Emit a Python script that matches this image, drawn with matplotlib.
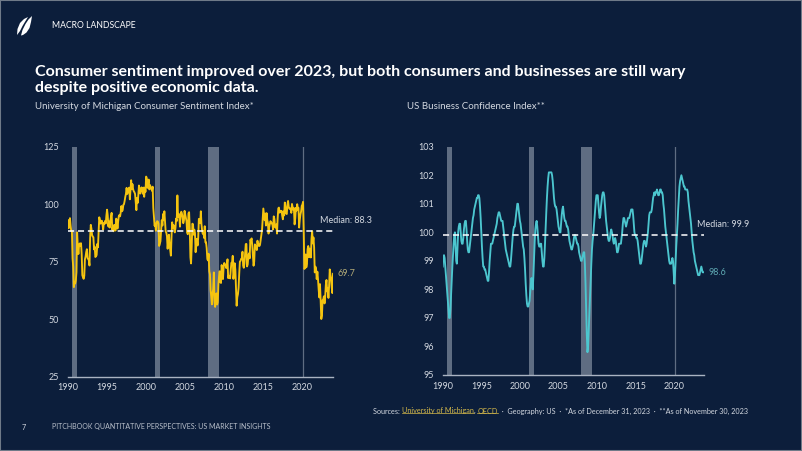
import numpy as np
import matplotlib
matplotlib.use("Agg")
import matplotlib.pyplot as plt
from matplotlib.patches import Polygon, Rectangle
from matplotlib.lines import Line2D

plt.rcParams['font.family'] = ['Lato', 'DejaVu Sans']

# ---------------- data ----------------
start_year = 1990  # monthly series starting January 1990

sentiment = [
    93.0, 89.5, 91.3, 93.9, 90.6, 88.3, 88.2, 76.4, 72.8, 63.9, 66.0, 65.5,
    66.8, 70.4, 87.7, 81.8, 78.3, 82.1, 82.9, 82.0, 83.0, 78.3, 69.1, 68.2,
    67.5, 68.8, 76.0, 77.2, 79.2, 80.4, 76.6, 76.1, 75.6, 73.3, 85.3, 91.0,
    89.3, 86.6, 85.9, 85.6, 80.3, 81.5, 77.0, 77.3, 77.9, 82.7, 81.2, 88.2,
    94.3, 93.2, 91.5, 92.6, 92.8, 91.2, 89.0, 91.7, 91.5, 92.7, 91.6, 95.1,
    97.6, 95.1, 90.3, 92.5, 89.8, 92.7, 94.4, 96.2, 88.9, 90.2, 88.2, 91.0,
    89.3, 88.5, 93.7, 92.7, 89.4, 92.4, 94.7, 95.3, 94.7, 96.5, 99.2, 96.9,
    97.4, 99.7, 100.0, 101.4, 103.2, 104.5, 107.1, 104.4, 106.0, 105.6, 107.2, 102.1,
    106.6, 110.4, 106.5, 108.7, 106.5, 105.6, 105.2, 104.4, 100.9, 97.4, 102.7, 100.5,
    103.9, 108.1, 105.7, 104.6, 106.8, 107.3, 106.0, 104.5, 107.2, 103.2, 107.2, 105.4,
    112.0, 111.3, 107.1, 109.2, 110.7, 106.4, 108.3, 107.3, 106.8, 105.8, 107.6, 98.4,
    94.7, 90.6, 91.5, 88.4, 92.0, 92.6, 92.4, 91.5, 81.8, 82.7, 83.9, 88.8,
    93.0, 90.7, 95.7, 93.0, 96.9, 92.4, 88.1, 87.6, 86.1, 80.6, 84.2, 86.7,
    82.4, 79.9, 77.6, 86.0, 92.1, 89.7, 90.9, 89.3, 87.7, 89.6, 93.7, 92.6,
    103.8, 94.4, 95.8, 94.2, 90.2, 95.6, 96.7, 95.9, 94.2, 91.7, 92.8, 97.1,
    95.5, 94.1, 92.6, 87.7, 86.9, 96.0, 96.5, 89.1, 76.9, 74.2, 81.6, 91.5,
    91.2, 86.7, 88.9, 87.4, 79.1, 84.9, 84.7, 82.0, 85.4, 93.6, 92.1, 91.7,
    96.9, 91.3, 88.4, 87.1, 88.3, 85.3, 90.4, 83.4, 83.4, 80.9, 76.1, 75.5,
    78.4, 70.8, 69.5, 62.6, 59.8, 56.4, 61.2, 63.0, 70.3, 57.6, 55.3, 60.1,
    61.2, 56.3, 57.3, 65.1, 68.7, 70.8, 66.0, 65.7, 73.5, 70.6, 67.4, 72.5,
    74.4, 73.6, 73.6, 72.2, 73.6, 76.0, 67.8, 68.9, 68.2, 67.7, 71.6, 74.5,
    74.2, 77.5, 67.5, 69.8, 74.3, 71.5, 63.7, 55.8, 59.5, 60.8, 63.7, 69.9,
    75.0, 75.3, 76.2, 76.4, 79.3, 73.2, 72.3, 74.3, 78.3, 82.6, 82.7, 72.9,
    73.8, 77.6, 78.6, 76.4, 84.5, 84.1, 85.1, 82.1, 77.5, 73.2, 75.1, 82.5,
    81.2, 81.6, 80.0, 84.1, 81.9, 82.5, 81.8, 82.5, 84.6, 86.9, 88.8, 93.6,
    98.1, 95.4, 93.0, 95.9, 90.7, 96.1, 93.1, 91.9, 87.2, 90.0, 91.3, 92.6,
    92.0, 91.7, 91.0, 89.0, 94.7, 93.5, 90.0, 89.8, 91.2, 87.2, 93.8, 98.2,
    98.5, 96.3, 96.9, 97.0, 97.1, 95.0, 93.4, 96.8, 95.1, 100.7, 98.5, 95.9,
    95.7, 99.7, 101.4, 98.8, 98.0, 98.2, 97.9, 96.2, 100.1, 98.6, 97.5, 98.3,
    91.2, 93.8, 98.4, 97.2, 100.0, 98.2, 98.4, 89.8, 93.2, 95.5, 96.8, 99.3,
    99.8, 101.0, 89.1, 71.8, 72.3, 78.1, 72.5, 74.1, 80.4, 81.8, 76.9, 80.7,
    79.0, 76.8, 84.9, 88.3, 82.9, 85.5, 81.2, 70.3, 72.8, 71.7, 67.4, 70.6,
    67.2, 62.8, 59.4, 65.2, 58.4, 50.0, 51.5, 58.2, 58.6, 59.9, 56.8, 59.7,
    64.9, 67.0, 62.0, 63.5, 59.2, 64.4, 71.6, 69.5, 67.9, 63.8, 61.3, 69.7,
]

bci = [
    98.8, 99.1, 99.2, 99.1, 98.8, 98.5, 98.2, 97.9, 97.6, 97.3, 97.0, 97.0,
    97.3, 97.8, 98.3, 98.8, 99.2, 99.6, 99.9, 100.0, 99.5, 99.0, 98.9, 99.5,
    100.0, 100.2, 100.3, 100.3, 100.0, 99.7, 99.6, 99.6, 99.8, 100.1, 100.3, 100.4,
    100.4, 100.1, 99.7, 99.4, 99.3, 99.3, 99.5, 99.7, 99.9, 100.1, 100.3, 100.5,
    100.6, 100.8, 100.9, 101.0, 101.1, 101.2, 101.2, 101.3, 101.3, 101.2, 100.9, 100.5,
    100.0, 99.5, 99.1, 98.8, 98.8, 98.7, 98.7, 98.6, 98.5, 98.4, 98.3, 98.3,
    98.6, 99.0, 99.3, 99.6, 99.6, 99.6, 99.7, 99.8, 99.9, 100.0, 100.1, 100.2,
    100.3, 100.5, 100.6, 100.7, 100.7, 100.6, 100.5, 100.4, 100.4, 100.4, 100.2, 100.0,
    99.8, 99.6, 99.4, 99.3, 99.2, 99.1, 99.0, 98.9, 98.8, 98.8, 99.0, 99.3,
    99.6, 99.9, 100.1, 100.2, 100.2, 100.4, 100.6, 100.8, 101.0, 101.0, 100.8, 100.6,
    100.4, 100.3, 100.1, 99.9, 99.7, 99.5, 99.4, 99.1, 98.7, 98.2, 97.8, 97.5,
    97.4, 97.4, 97.5, 97.6, 97.9, 98.2, 98.4, 98.2, 98.0, 98.5, 99.1, 99.7,
    100.1, 100.3, 100.4, 100.2, 99.9, 99.6, 99.5, 99.5, 99.6, 99.6, 99.3, 99.0,
    98.8, 98.8, 99.1, 99.6, 100.2, 100.7, 101.2, 101.6, 101.9, 102.1, 102.1, 102.1,
    102.1, 102.1, 102.0, 101.8, 101.5, 101.2, 101.0, 100.9, 100.9, 100.8, 100.6, 100.4,
    100.2, 100.1, 100.0, 100.0, 100.3, 100.6, 100.8, 100.9, 100.7, 100.5, 100.4, 100.4,
    100.3, 100.2, 100.2, 100.1, 99.9, 99.7, 99.6, 99.5, 99.4, 99.4, 99.5, 99.6,
    99.8, 99.9, 99.9, 99.8, 99.7, 99.6, 99.6, 99.5, 99.3, 99.2, 99.1, 99.0,
    99.0, 99.1, 99.2, 99.3, 99.3, 98.9, 98.2, 97.3, 96.4, 95.8, 96.0, 96.6,
    97.2, 97.8, 98.4, 98.9, 99.4, 99.7, 99.9, 100.2, 100.5, 100.8, 101.1, 101.3,
    101.3, 101.3, 101.0, 100.7, 100.5, 100.6, 100.9, 101.1, 101.3, 101.4, 101.4, 101.3,
    101.0, 100.7, 100.4, 100.2, 100.0, 99.8, 99.7, 99.7, 99.8, 100.0, 100.1, 100.0,
    99.9, 99.7, 99.6, 99.7, 99.8, 99.7, 99.5, 99.3, 99.3, 99.4, 99.6, 99.6,
    99.6, 99.6, 99.8, 100.0, 100.3, 100.5, 100.5, 100.4, 100.3, 100.2, 100.3, 100.4,
    100.5, 100.5, 100.5, 100.6, 100.7, 100.8, 100.8, 100.8, 100.6, 100.3, 100.0, 99.9,
    99.9, 99.8, 99.8, 99.7, 99.5, 99.3, 99.1, 98.9, 98.9, 99.0, 99.2, 99.4,
    99.6, 99.7, 99.7, 99.6, 99.5, 99.6, 99.8, 100.0, 100.3, 100.6, 100.7, 100.7,
    100.7, 100.8, 101.0, 101.2, 101.3, 101.4, 101.3, 101.4, 101.4, 101.5, 101.4, 101.3,
    101.3, 101.4, 101.5, 101.5, 101.4, 101.4, 101.3, 101.0, 100.8, 100.5, 100.2, 100.0,
    99.8, 99.6, 99.4, 99.2, 99.0, 98.9, 98.9, 98.9, 99.0, 99.1, 99.0, 98.6,
    98.2, 98.5, 99.0, 99.5, 99.9, 100.3, 100.8, 101.2, 101.6, 101.8, 101.9, 102.0,
    101.9, 101.8, 101.7, 101.6, 101.6, 101.5, 101.5, 101.5, 101.5, 101.4, 101.1, 100.9,
    100.7, 100.5, 100.3, 100.0, 99.7, 99.5, 99.3, 99.2, 99.0, 98.9, 98.8, 98.7,
    98.6, 98.5, 98.5, 98.5, 98.6, 98.7, 98.8, 98.7, 98.6, 98.6, 98.6,
]

sentiment_median = 88.3
bci_median = 99.9
recessions = [(1990.55, 1991.17), (2001.15, 2001.77), (2007.92, 2009.33)]
covid_marker = 2020.1
year_ticks = [1990, 1995, 2000, 2005, 2010, 2015, 2020]
sentiment_yticks = [25, 50, 75, 100, 125]
bci_yticks = [95, 96, 97, 98, 99, 100, 101, 102, 103]

title_lines = ["Consumer sentiment improved over 2023, but both consumers and businesses are still wary",
               "despite positive economic data."]
left_subtitle = "University of Michigan Consumer Sentiment Index*"
right_subtitle = "US Business Confidence Index**"

# ---------------- style ----------------
BG = '#0c1e3b'
YELLOW = '#f5c40f'
TEAL = '#4cc6cf'
REC = '#5f6d82'
TXT = '#d3d8e0'
LINK = '#d4b84a'
W, H = 802, 451

fig = plt.figure(figsize=(W / 100, H / 100), dpi=100, facecolor=BG)


def fx(px):
    return px / W


def fy(py):
    return 1 - py / H


def panel(rect, values, color, median, ylim, yticks, med_frac, last_color):
    ax = fig.add_axes(rect)
    ax.set_facecolor(BG)
    x = start_year + np.arange(len(values)) / 12.0
    for a, b in recessions:
        ax.axvspan(a, b, color=REC, lw=0, zorder=1)
    ax.axvline(covid_marker, color=REC, lw=0.9, zorder=1)
    ax.plot(x, values, color=color, lw=1.35, zorder=3, solid_joinstyle='round')
    ax.axhline(median, color='white', lw=1.1, ls=(0, (4, 2.5)), zorder=4)
    ax.set_xlim(x[0], x[-1])
    ax.set_ylim(*ylim)
    ax.set_xticks(year_ticks)
    ax.set_xticklabels([str(t) for t in year_ticks])
    ax.set_yticks(yticks)
    ax.set_yticklabels([str(t) for t in yticks])
    for s in ['top', 'right', 'left']:
        ax.spines[s].set_visible(False)
    ax.spines['bottom'].set_color('#aab3c2')
    ax.spines['bottom'].set_linewidth(1.0)
    ax.spines['bottom'].set_zorder(5)
    ax.tick_params(axis='both', length=0, labelsize=6.5, labelcolor=TXT)
    ax.tick_params(axis='y', pad=6.5)
    ax.tick_params(axis='x', pad=5)
    ax.annotate(f"Median: {median}", xy=(med_frac, median),
                xycoords=('axes fraction', 'data'), xytext=(0, 7.5),
                textcoords='offset points', ha='left', va='center',
                fontsize=6.5, color=TXT, annotation_clip=False)
    ax.annotate(f"{values[-1]}", xy=(x[-1], values[-1]), xytext=(3, 0),
                textcoords='offset points', ha='left', va='center',
                fontsize=6.5, color=last_color, annotation_clip=False)
    return ax


ax1 = panel([fx(68), fy(376.5), fx(333) - fx(68), (376.5 - 146.7) / H],
            sentiment, YELLOW, sentiment_median, (25, 125), sentiment_yticks,
            0.951, '#b3ab78')
ax2 = panel([fx(442.7), fy(375), fx(703.9) - fx(442.7), (375 - 146.7) / H],
            bci, TEAL, bci_median, (95, 103), bci_yticks, 0.972, '#5ea8b2')

# ---------------- texts ----------------
fig.text(fx(35), fy(72), title_lines[0], fontsize=11.5, fontweight='bold',
         color='white', va='center', ha='left')
fig.text(fx(35), fy(88), title_lines[1], fontsize=11.5, fontweight='bold',
         color='white', va='center', ha='left')
fig.text(fx(35), fy(106), left_subtitle, fontsize=7, color=TXT, va='center')
fig.text(fx(407), fy(106), right_subtitle, fontsize=7, color=TXT, va='center')

fig.text(fx(52), fy(25), "MACRO LANDSCAPE", fontsize=6.2, color='white', va='center')
fig.text(fx(22), fy(427), "7", fontsize=5.2, color=TXT, va='center')
fig.text(fx(52), fy(427), "PITCHBOOK QUANTITATIVE PERSPECTIVES: US MARKET INSIGHTS",
         fontsize=5.0, color='#b8bfca', va='center')

# sources line with linked (underlined) pieces
pieces = [("Sources: ", TXT, False), ("University of Michigan", LINK, True),
          (", ", TXT, False), ("OECD", LINK, True),
          ("  \u00b7  Geography: US  \u00b7  *As of December 31, 2023  \u00b7  **As of November 30, 2023", TXT, False)]
prev = fig.text(fx(373), fy(411), pieces[0][0], fontsize=5.2, color=pieces[0][1],
                va='center', ha='left')
text_objs = [(prev, pieces[0][2], pieces[0][1])]
for txt, col, ul in pieces[1:]:
    t = fig.text(0, 0, "", fontsize=5.2)
    t.remove()
    t = plt.annotate(txt, xy=(1, 0.5), xycoords=prev, va='center', ha='left',
                     fontsize=5.2, color=col, annotation_clip=False)
    text_objs.append((t, ul, col))
    prev = t

fig.canvas.draw()
renderer = fig.canvas.get_renderer()
for t, ul, col in text_objs:
    if ul:
        bb = t.get_window_extent(renderer)
        yline = bb.y0 + 1.2
        fig.add_artist(Line2D([bb.x0 / W, bb.x1 / W], [yline / H, yline / H],
                              color=col, lw=0.5, transform=fig.transFigure))

# logo (stylised sails)
sail_back = [(17, 35), (17.5, 29), (20, 23), (24, 19), (28, 17), (25.5, 21), (22.5, 26), (20, 31)]
sail_front = [(21, 35.5), (22.5, 30), (25.5, 24), (28.5, 19.5), (32, 16), (31, 22), (29.5, 28), (26.5, 32.5), (23, 35)]
for pts in (sail_back, sail_front):
    fig.add_artist(Polygon([(fx(px), fy(py)) for px, py in pts], closed=True,
                           facecolor='white', edgecolor='none', transform=fig.transFigure))

# thin frame
fig.add_artist(Rectangle((0, 0), 1, 1, transform=fig.transFigure, fill=False,
                         edgecolor='#6f7a88', lw=1.5))

fig.savefig("out.png", dpi=100, facecolor=BG)
